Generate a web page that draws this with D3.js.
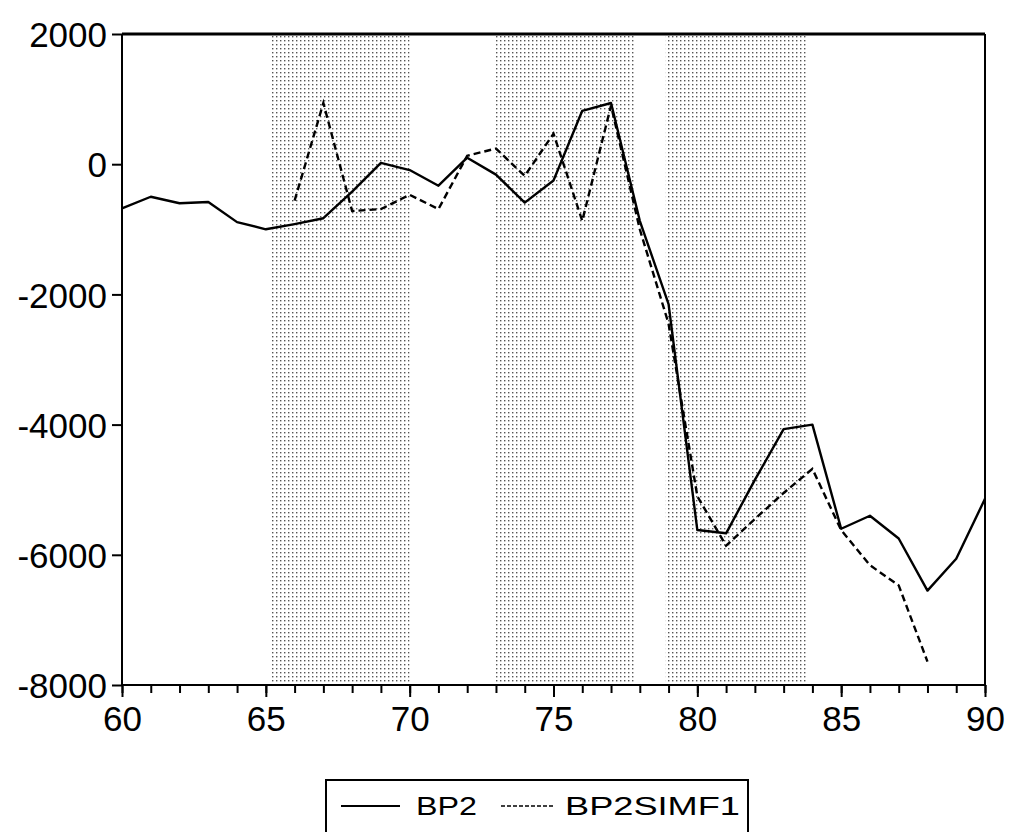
<!DOCTYPE html>
<html>
<head>
<meta charset="utf-8">
<script src="https://cdn.jsdelivr.net/npm/d3@7"></script>
<style>
  body { margin: 0; background: #fff; }
  text { font-family: "Liberation Sans", Arial, sans-serif; fill: #000; }
</style>
</head>
<body>
<svg id="chart" width="1009" height="832"></svg>
<script>
/* data */
const years = d3.range(60, 91);
const bp2 = [
  -680, -500, -600, -580, -890, -1000, -920, -830, -420, 20,
  -90, -330, 100, -160, -590, -250, 820, 940, -870, -2150,
  -5620, -5670, -4850, -4070, -4000, -5600, -5400, -5750, -6550, -6060,
  -5140
];
const simYears = d3.range(66, 89);
const bp2simf1 = [
  -560, 940, -720, -690, -470, -690, 130, 240, -180, 470,
  -870, 900, -1000, -2450, -5100, -5860, -5450, -5050, -4680, -5620,
  -6160, -6470, -7640
];
const shadeStart = [65.2, 73.0, 78.9];
const shadeEnd = [70.0, 77.8, 83.8];
const yTicks = [-8000, -6000, -4000, -2000, 0, 2000];
const xTicks = [60, 65, 70, 75, 80, 85, 90];
const seriesNames = ["BP2", "BP2SIMF1"];

/* chart */
!(function() {
  let left = 122, right = 985, top = 34, bottom = 685;
  let svg = d3.select("#chart");

  let x = d3.scaleLinear().domain([60, 90]).range([left, right]);
  let y = d3.scaleLinear().domain([-8000, 2000]).range([bottom, top]);

  // stipple pattern for shaded periods
  let pat = svg.append("defs").append("pattern")
    .attr("id", "dots")
    .attr("width", 4).attr("height", 4)
    .attr("patternUnits", "userSpaceOnUse");
  pat.append("rect").attr("width", 1.4).attr("height", 1.4).attr("fill", "#555");

  svg.selectAll(".shade")
    .data(shadeStart)
    .enter().append("rect")
    .attr("class", "shade")
    .attr("x", d => x(d))
    .attr("width", (d, i) => x(shadeEnd[i]) - x(d))
    .attr("y", top)
    .attr("height", bottom - top)
    .attr("fill", "url(#dots)");

  // lines
  let line = d3.line()
    .x(d => x(d[0]))
    .y(d => y(d[1]));

  svg.append("path")
    .datum(years.map((yr, i) => [yr, bp2[i]]))
    .attr("d", line)
    .attr("fill", "none")
    .attr("stroke", "#000")
    .attr("stroke-width", 2.4)
    .attr("stroke-linejoin", "round");

  svg.append("path")
    .datum(simYears.map((yr, i) => [yr, bp2simf1[i]]))
    .attr("d", line)
    .attr("fill", "none")
    .attr("stroke", "#000")
    .attr("stroke-width", 2.4)
    .attr("stroke-dasharray", "7,4");

  // frame
  svg.append("line").attr("x1", left).attr("x2", right).attr("y1", top).attr("y2", top)
    .attr("stroke", "#000").attr("stroke-width", 3);
  svg.append("line").attr("x1", right).attr("x2", right).attr("y1", top).attr("y2", bottom)
    .attr("stroke", "#000").attr("stroke-width", 2);
  svg.append("line").attr("x1", left).attr("x2", left).attr("y1", top).attr("y2", bottom)
    .attr("stroke", "#000").attr("stroke-width", 2);
  svg.append("line").attr("x1", left).attr("x2", right).attr("y1", bottom).attr("y2", bottom)
    .attr("stroke", "#000").attr("stroke-width", 2);

  // y axis
  let yAxis = svg.append("g")
    .attr("transform", "translate(" + left + ",0)")
    .call(d3.axisLeft(y).tickValues(yTicks).tickSize(10).tickPadding(5)
      .tickFormat(d => String(d)));
  yAxis.select(".domain").remove();
  yAxis.selectAll(".tick line").attr("stroke-width", 2);
  yAxis.selectAll("text")
    .attr("font-size", 35)
    .attr("font-family", "Liberation Sans, Arial, sans-serif")
    .attr("dy", "0.36em");

  // x axis, minor ticks every year
  let xMinor = svg.append("g")
    .attr("transform", "translate(0," + bottom + ")")
    .call(d3.axisBottom(x).tickValues(years).tickSize(8).tickFormat(""));
  xMinor.select(".domain").remove();
  xMinor.selectAll(".tick line").attr("stroke-width", 2);

  let xAxis = svg.append("g")
    .attr("transform", "translate(0," + bottom + ")")
    .call(d3.axisBottom(x).tickValues(xTicks).tickSize(12).tickPadding(9)
      .tickFormat(d => String(d)));
  xAxis.select(".domain").remove();
  xAxis.selectAll(".tick line").attr("stroke-width", 2);
  xAxis.selectAll("text")
    .attr("font-size", 35)
    .attr("font-family", "Liberation Sans, Arial, sans-serif");

  // legend
  let lg = svg.append("g");
  lg.append("rect")
    .attr("x", 326).attr("y", 780)
    .attr("width", 422).attr("height", 80)
    .attr("fill", "#fff")
    .attr("stroke", "#000").attr("stroke-width", 2);
  lg.append("line")
    .attr("x1", 341).attr("x2", 400).attr("y1", 806).attr("y2", 806)
    .attr("stroke", "#000").attr("stroke-width", 1.8);
  lg.append("text")
    .attr("x", 416).attr("y", 815)
    .attr("font-size", 26)
    .attr("textLength", 61).attr("lengthAdjust", "spacingAndGlyphs")
    .text(seriesNames[0]);
  lg.append("line")
    .attr("x1", 501).attr("x2", 554).attr("y1", 806).attr("y2", 806)
    .attr("stroke", "#000").attr("stroke-width", 1.5)
    .attr("stroke-dasharray", "4,2");
  lg.append("text")
    .attr("x", 565).attr("y", 815)
    .attr("font-size", 26)
    .attr("textLength", 175).attr("lengthAdjust", "spacingAndGlyphs")
    .text(seriesNames[1]);
})();
</script>
</body>
</html>
